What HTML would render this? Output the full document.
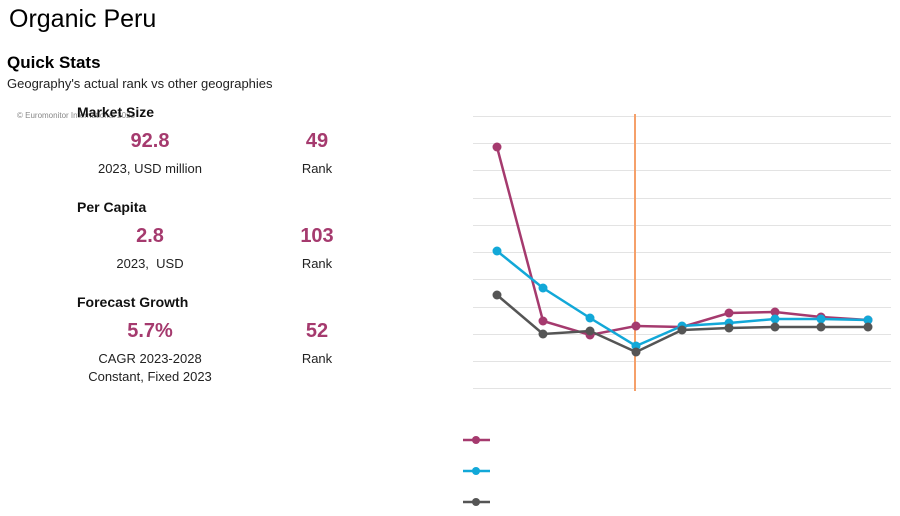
<!DOCTYPE html>
<html><head><meta charset="utf-8"><style>
body{margin:0;width:900px;height:516px;background:#fff;font-family:"Liberation Sans",sans-serif;position:relative;overflow:hidden}
.a{position:absolute;white-space:nowrap}
.h{font-size:14px;font-weight:bold;color:#111}
.v{font-size:20px;font-weight:bold;color:#a53a6e;text-align:center;width:120px}
.s{font-size:13px;color:#222;text-align:center;width:200px}
</style></head><body>
<div class="a" style="left:9px;top:5px;font-size:25px;color:#000">Organic Peru</div>
<div class="a" style="left:7px;top:53px;font-size:17px;font-weight:bold;color:#000">Quick Stats</div>
<div class="a" style="left:7px;top:76px;font-size:13px;color:#222">Geography's actual rank vs other geographies</div>
<div class="a" style="left:17px;top:111px;font-size:8px;color:#888">© Euromonitor International 2023</div>
<div class="a h" style="left:77px;top:104px">Market Size</div>
<div class="a v" style="left:90px;top:130px">92.8</div>
<div class="a v" style="left:257px;top:130px">49</div>
<div class="a s" style="left:50px;top:161px">2023, USD million</div>
<div class="a s" style="left:217px;top:161px">Rank</div>
<div class="a h" style="left:77px;top:199px">Per Capita</div>
<div class="a v" style="left:90px;top:225px">2.8</div>
<div class="a v" style="left:257px;top:225px">103</div>
<div class="a s" style="left:50px;top:256px">2023,&nbsp; USD</div>
<div class="a s" style="left:217px;top:256px">Rank</div>
<div class="a h" style="left:77px;top:294px">Forecast Growth</div>
<div class="a v" style="left:90px;top:320px">5.7%</div>
<div class="a v" style="left:257px;top:320px">52</div>
<div class="a s" style="left:50px;top:351px">CAGR 2023-2028</div>
<div class="a s" style="left:217px;top:351px">Rank</div>
<div class="a s" style="left:50px;top:369px">Constant, Fixed 2023</div>
<svg class="a" style="left:0;top:0" width="900" height="516">
<g stroke="#e3e3e3" stroke-width="1">
<line x1="473" x2="891" y1="116.5" y2="116.5"/><line x1="473" x2="891" y1="143.5" y2="143.5"/><line x1="473" x2="891" y1="170.5" y2="170.5"/><line x1="473" x2="891" y1="198.5" y2="198.5"/><line x1="473" x2="891" y1="225.5" y2="225.5"/><line x1="473" x2="891" y1="252.5" y2="252.5"/><line x1="473" x2="891" y1="279.5" y2="279.5"/><line x1="473" x2="891" y1="307.5" y2="307.5"/><line x1="473" x2="891" y1="334.5" y2="334.5"/><line x1="473" x2="891" y1="361.5" y2="361.5"/><line x1="473" x2="891" y1="388.5" y2="388.5"/>
</g>
<line x1="635" x2="635" y1="114" y2="391" stroke="#f5a06a" stroke-width="2"/>
<g fill="none" stroke-width="2.5">
<polyline stroke="#a53a6e" points="497,147 543,321 590,335 636,326 682,327 729,313 775,312 821,317 868,320"/>
<polyline stroke="#12a8d8" points="497,251 543,288 590,318 636,346 682,326 729,323 775,319 821,319 868,320"/>
<polyline stroke="#555" points="497,295 543,334 590,331 636,352 682,330 729,328 775,327 821,327 868,327"/>
</g>
<g fill="#a53a6e"><circle cx="497" cy="147" r="4.5"/><circle cx="543" cy="321" r="4.5"/><circle cx="590" cy="335" r="4.5"/><circle cx="636" cy="326" r="4.5"/><circle cx="682" cy="327" r="4.5"/><circle cx="729" cy="313" r="4.5"/><circle cx="775" cy="312" r="4.5"/><circle cx="821" cy="317" r="4.5"/><circle cx="868" cy="320" r="4.5"/></g>
<g fill="#12a8d8"><circle cx="497" cy="251" r="4.5"/><circle cx="543" cy="288" r="4.5"/><circle cx="590" cy="318" r="4.5"/><circle cx="636" cy="346" r="4.5"/><circle cx="682" cy="326" r="4.5"/><circle cx="729" cy="323" r="4.5"/><circle cx="775" cy="319" r="4.5"/><circle cx="821" cy="319" r="4.5"/><circle cx="868" cy="320" r="4.5"/></g>
<g fill="#555"><circle cx="497" cy="295" r="4.5"/><circle cx="543" cy="334" r="4.5"/><circle cx="590" cy="331" r="4.5"/><circle cx="636" cy="352" r="4.5"/><circle cx="682" cy="330" r="4.5"/><circle cx="729" cy="328" r="4.5"/><circle cx="775" cy="327" r="4.5"/><circle cx="821" cy="327" r="4.5"/><circle cx="868" cy="327" r="4.5"/></g>
<g stroke-width="2.5">
<line x1="463" x2="490" y1="440" y2="440" stroke="#a53a6e"/><circle cx="476" cy="440" r="4" fill="#a53a6e"/>
<line x1="463" x2="490" y1="471" y2="471" stroke="#12a8d8"/><circle cx="476" cy="471" r="4" fill="#12a8d8"/>
<line x1="463" x2="490" y1="502" y2="502" stroke="#555"/><circle cx="476" cy="502" r="4" fill="#555"/>
</g>
</svg>
</body></html>
